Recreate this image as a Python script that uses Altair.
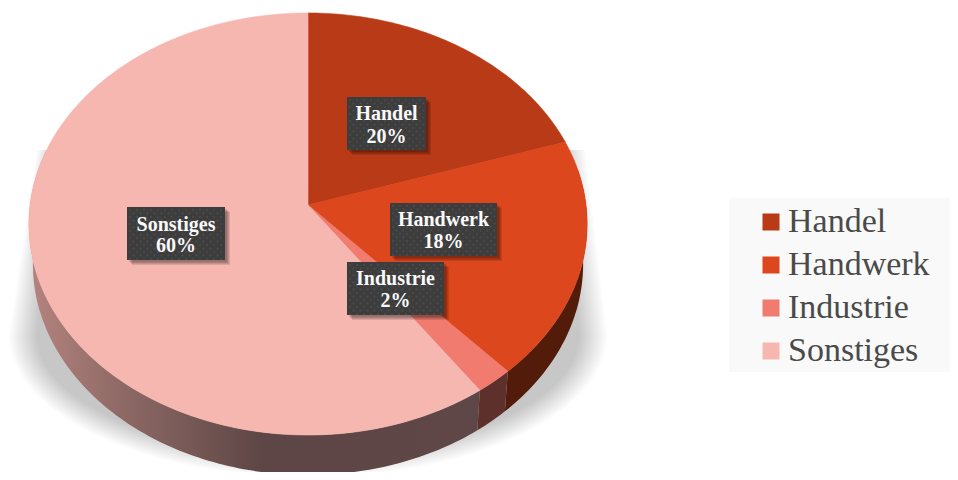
import math
import altair as alt
import pandas as pd

categories = ["Handel", "Handwerk", "Industrie", "Sonstiges"]
shares = [20, 18.3, 2, 59.7]
top_colors = ["#b83a17", "#dc471e", "#f17b6f", "#f7b7b1"]
wall_colors = ["#531c0a", "#531c0a", "#5e302b", "#5d4645"]
box_left = [347, 390, 347, 127]
box_right = [426, 497, 444, 225]
box_top = [97, 203, 262, 207]
line1_y = [114, 220, 279, 225]
line2_y = [137, 242, 301, 246]

CX, CY, A, B, K = 308, 205, 278, 209.3, 0.09
DEPTH, SHRINK = 40, 275 / 279


def proj(deg):
    t = math.radians(deg)
    u, v = math.sin(t), math.cos(t)
    d = 1 + K * v
    return CX + A * u / d, CY - B * v / d


def frange(a, b, step=1.0):
    n = max(2, int(abs(b - a) / step) + 1)
    return [a + (b - a) * i / (n - 1) for i in range(n)]


starts, acc = [], 0
for s in shares:
    starts.append(acc * 3.6)
    acc += s

top_rows, wall_rows = [], []
for cat, s0, s in zip(categories, starts, shares):
    s1 = s0 + s * 3.6
    pts = [(CX, CY)] + [proj(d) for d in frange(s0, s1)] + [(CX, CY)]
    for i, (x, y) in enumerate(pts):
        top_rows.append({"cat": cat, "i": i, "x": x, "y": y})
    w0, w1 = max(s0, 80), min(s1, 285)
    if w1 > w0:
        rim = [proj(d) for d in frange(w0, w1)]
        low = [(CX + (x - CX) * SHRINK, y + DEPTH) for x, y in rim][::-1]
        for i, (x, y) in enumerate(rim + low):
            wall_rows.append({"cat": cat, "i": i, "x": x, "y": y})

shadow_rows = []
N = 14
for k in range(N):
    t = k / (N - 1)
    R = 272 + 27 * t
    ry = 120 + 22 * t
    tipl, tipr = 255 + 16 * t, 255 + 22 * t
    pts = [(CX - tipl, 150)]
    for d in frange(180, 360, 3):
        x = CX + R * math.cos(math.radians(d))
        y = 335 - ry * math.sin(math.radians(d))
        pts.append((x, y))
    pts.append((CX + tipr, 150))
    for i, (x, y) in enumerate(pts):
        shadow_rows.append({"k": k, "i": i, "x": x, "y": y})

XS = alt.Scale(domain=[8, 950], nice=False, zero=False)
YS = alt.Scale(domain=[472, 8], nice=False, zero=False)
X = alt.X("x:Q", scale=XS, axis=None)
Y = alt.Y("y:Q", scale=YS, axis=None)
ORDER = alt.Order("i:Q")

shadow = alt.Chart(pd.DataFrame(shadow_rows)).mark_line(
    strokeWidth=0, fill="#000000", fillOpacity=0.017, clip=True
).encode(x=X, y=Y, detail="k:N", order=ORDER)

side_grad = alt.LinearGradient(
    gradient="linear", x1=0, x2=1, y1=0, y2=0,
    stops=[
        alt.GradientStop(color="#b5847f", offset=0),
        alt.GradientStop(color="#8f6a66", offset=0.2),
        alt.GradientStop(color="#5d4645", offset=0.52),
        alt.GradientStop(color="#5e4746", offset=1),
    ],
)
wdf = pd.DataFrame(wall_rows)
wall_s = alt.Chart(wdf[wdf.cat == "Sonstiges"]).mark_line(
    strokeWidth=0, fill=side_grad, clip=True
).encode(x=X, y=Y, order=ORDER)
wall_o = alt.Chart(wdf[wdf.cat != "Sonstiges"]).mark_line(strokeWidth=0, clip=True).encode(
    x=X, y=Y, order=ORDER,
    fill=alt.Fill("cat:N", scale=alt.Scale(domain=categories, range=wall_colors), legend=None),
)

legend_bg = alt.Chart(pd.DataFrame({"x": [729], "x1": [950], "y": [198], "y1": [372]})).mark_rect(
    color="#f9f9f9"
).encode(x=X, x2="x1:Q", y=Y, y2="y1:Q")

top = alt.Chart(pd.DataFrame(top_rows)).mark_line(strokeWidth=0.6, clip=True).encode(
    x=X, y=Y, order=ORDER,
    fill=alt.Fill(
        "cat:N",
        scale=alt.Scale(domain=categories, range=top_colors),
        legend=alt.Legend(
            title=None, orient="none", legendX=746, legendY=197,
            symbolType="square", symbolSize=289, symbolStrokeWidth=0,
            labelFont="Liberation Serif", labelFontSize=34, labelColor="#4a4a4a",
            labelOffset=0, rowPadding=9, labelLimit=220,
        ),
    ),
    stroke=alt.Stroke("cat:N", scale=alt.Scale(domain=categories, range=top_colors), legend=None),
)

boxes = pd.DataFrame({
    "x": box_left, "x1": box_right, "y": box_top,
    "y1": [t + 53 for t in box_top],
    "line1": categories, "line2": [f"{round(s)}%" for s in shares],
    "mx": [(a + b) / 2 for a, b in zip(box_left, box_right)],
    "y_a": line1_y, "y_b": line2_y,
})
shadow_box_rows = []
for off in (2, 3, 4, 5):
    for l, r, t in zip(box_left, box_right, box_top):
        shadow_box_rows.append({"x": l + off, "x1": r + off, "y": t + off, "y1": t + 53 + off})
box_shadow = alt.Chart(pd.DataFrame(shadow_box_rows)).mark_rect(color="#000000", opacity=0.11).encode(
    x=X, x2="x1:Q", y=Y, y2="y1:Q"
)
box_rect = alt.Chart(boxes).mark_rect(color="#3d3d3d").encode(x=X, x2="x1:Q", y=Y, y2="y1:Q")

dots = []
for l, r, t in zip(box_left, box_right, box_top):
    row = 0
    yy = t + 3
    while yy < t + 53:
        xx = l + 3 + (3.5 if row % 2 else 0)
        while xx < r - 1:
            dots.append({"x": xx, "y": yy})
            xx += 7
        yy += 3.5
        row += 1
dot_layer = alt.Chart(pd.DataFrame(dots)).mark_square(size=3, color="#525252", opacity=0.8).encode(x=X, y=Y)

text_a = alt.Chart(boxes).mark_text(
    font="Liberation Serif", fontWeight="bold", fontSize=20, color="#fafafa", baseline="middle"
).encode(x=alt.X("mx:Q", scale=XS, axis=None), y=alt.Y("y_a:Q", scale=YS, axis=None), text="line1:N")
text_b = alt.Chart(boxes).mark_text(
    font="Liberation Serif", fontWeight="bold", fontSize=20, color="#fafafa", baseline="middle"
).encode(x=alt.X("mx:Q", scale=XS, axis=None), y=alt.Y("y_b:Q", scale=YS, axis=None), text="line2:N")

chart = alt.layer(
    shadow, wall_s, wall_o, legend_bg, top, box_shadow, box_rect, dot_layer, text_a, text_b
).resolve_scale(fill="independent", stroke="independent").properties(
    width=942, height=464, padding=0, autosize=alt.AutoSizeParams(type="none"),
    background="#ffffff",
).configure_view(stroke=None)

chart.save("out.html", embed_options={"renderer": "svg", "actions": False})
